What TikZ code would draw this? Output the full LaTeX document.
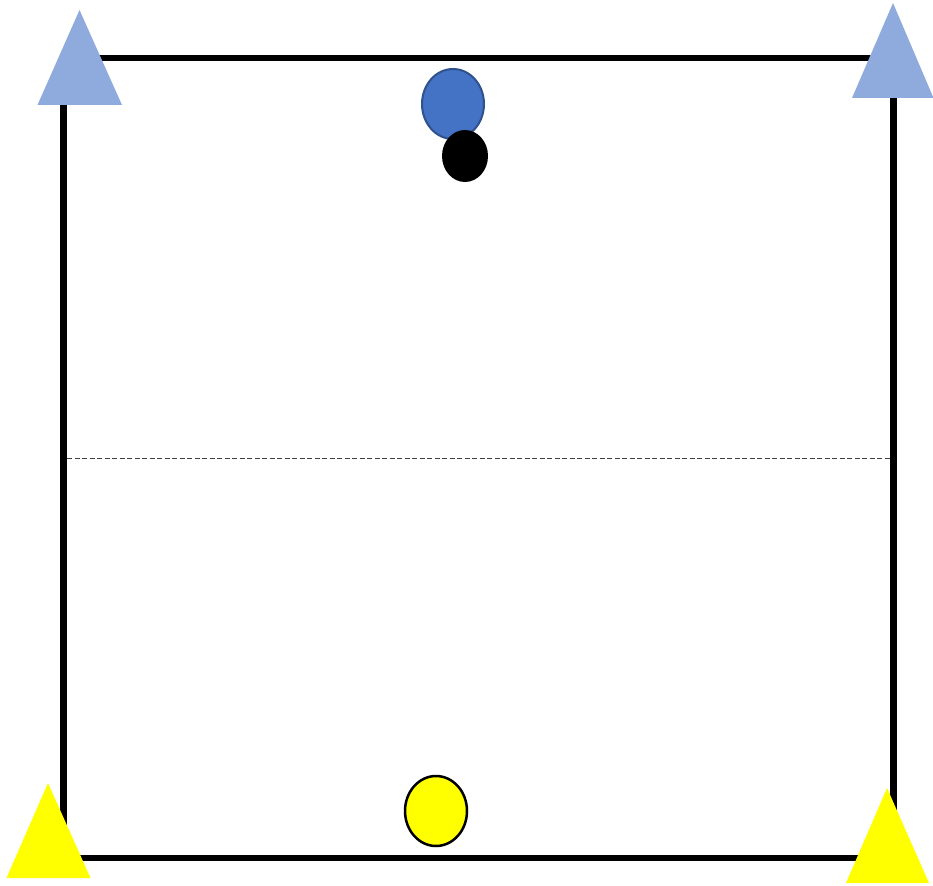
\documentclass[tikz,border=0pt]{standalone}
\usetikzlibrary{shapes.geometric}
\definecolor{conblue}{HTML}{8FAADC}
\definecolor{pblue}{HTML}{4472C4}
\definecolor{pblueedge}{HTML}{2F528F}
\definecolor{conyellow}{HTML}{FFFF00}
\begin{document}
\begin{tikzpicture}[x=1pt,y=-1pt,
  field/.style={draw=black,line width=6.5pt},
  half/.style={draw=black!75,line width=1pt,dash pattern=on 5pt off 2.5pt},
  player/.style={ellipse,inner sep=0pt,minimum width=62pt,minimum height=70pt}]
\useasboundingbox (0,0) rectangle (933,885);
\fill[white] (0,0) rectangle (933,885);
% field
\draw[field] (63.5,58) rectangle (893.5,858);
\draw[half] (67,458) -- (890,458);
% cones
\fill[conblue] (79.5,10) -- (122,105) -- (37.5,105) -- cycle;
\fill[conblue] (893,3) -- (933.5,98) -- (852,98) -- cycle;
\fill[conyellow] (48,783) -- (90.5,878) -- (6.5,878) -- cycle;
\fill[conyellow] (887,788) -- (929,883) -- (846,883) -- cycle;
% players
\node[player,draw=pblueedge,fill=pblue,line width=2pt] (bp) at (453,104) {};
\node[ellipse,fill=black,draw=none,minimum width=46pt,minimum height=52pt,inner sep=0pt] (ball) at (465,156) {};
\node[player,draw=black,fill=conyellow,line width=2.5pt] (yp) at (436,811) {};
\end{tikzpicture}
\end{document}
